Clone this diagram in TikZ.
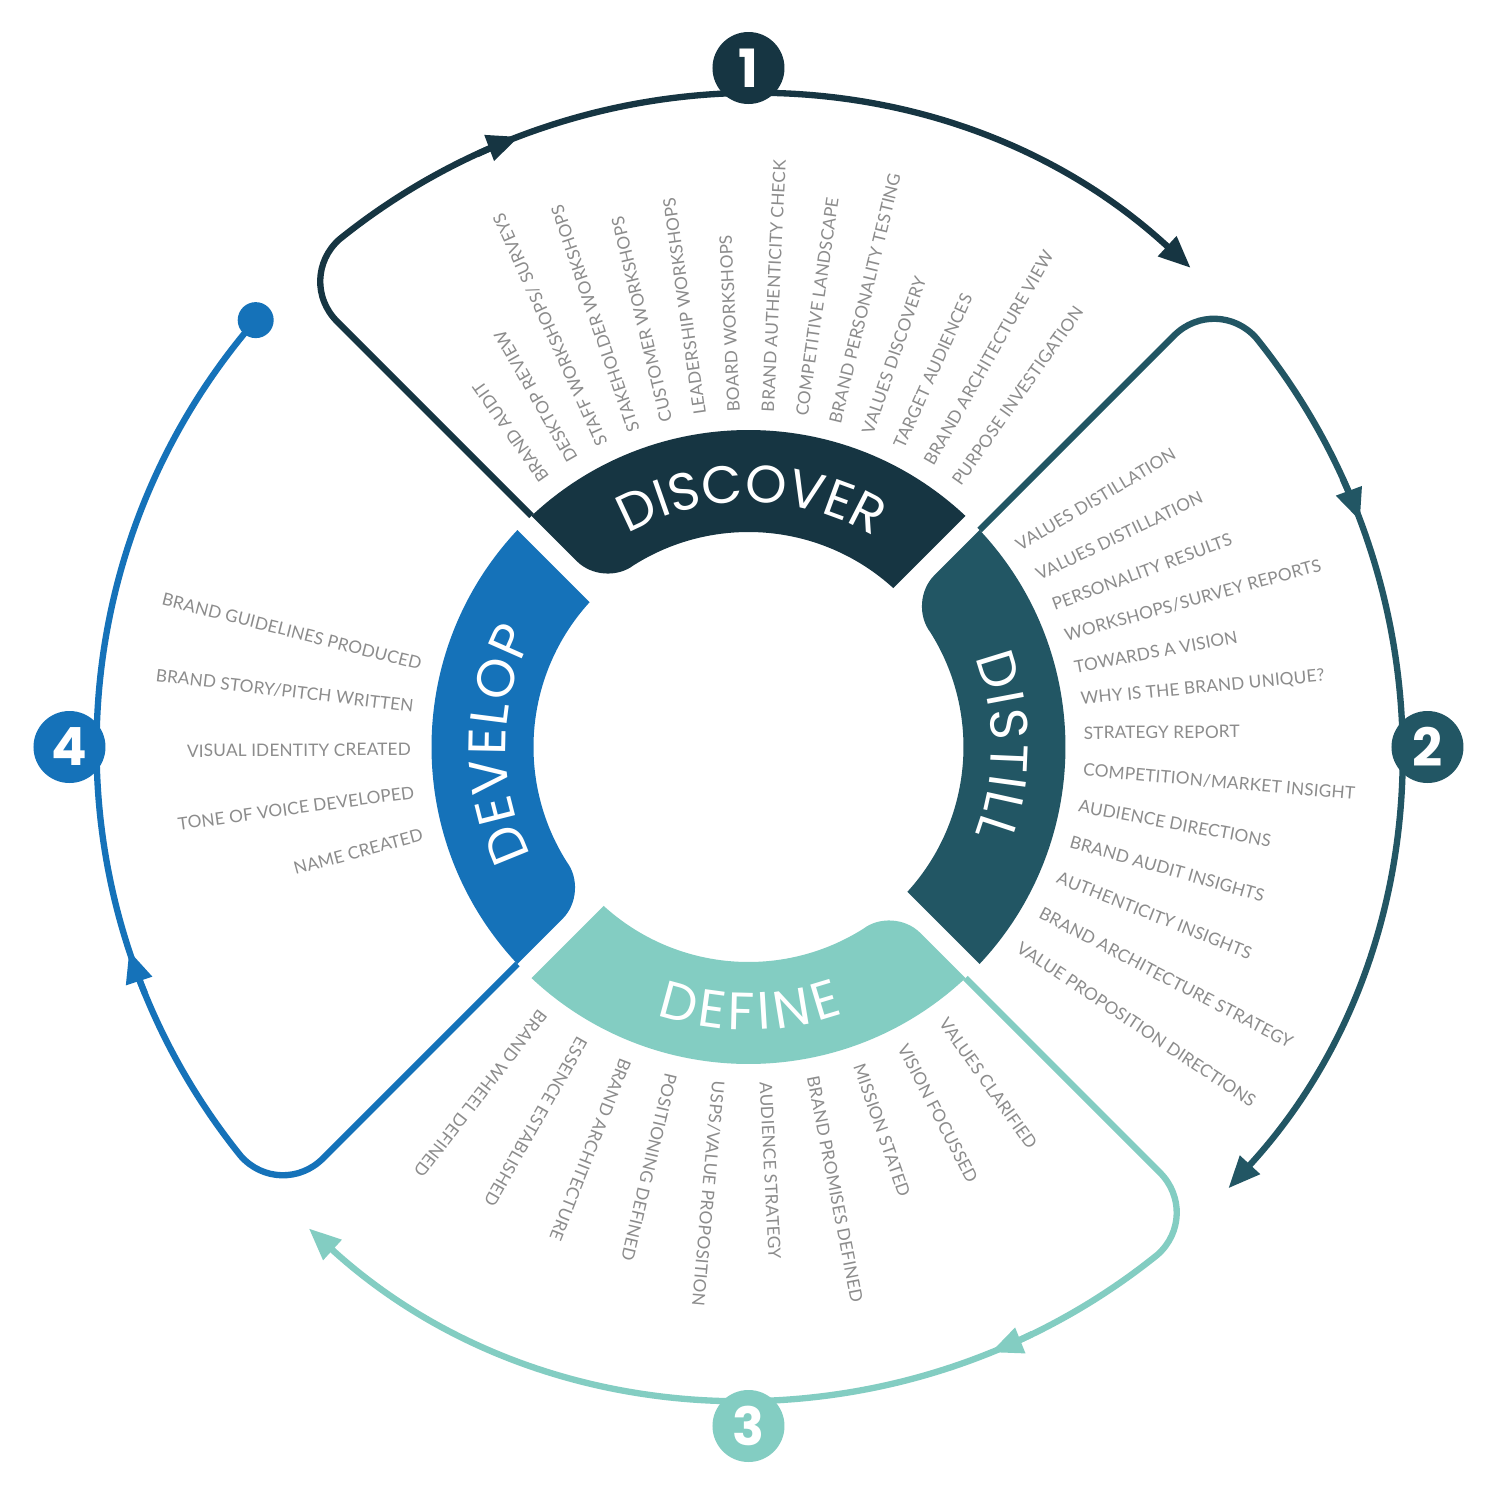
\documentclass[tikz,border=0pt]{standalone}
\usepackage{fontspec}
\setmainfont{Lato}
\newfontfamily\wordfont{Poppins}
\newfontfamily\labelfont[LetterSpace=1]{Lato}
\usepackage{xcolor}
\usepackage{tikz}
\usetikzlibrary{arrows.meta, calc, decorations.text}
\definecolor{discovercol}{HTML}{163542}
\definecolor{distillcol}{HTML}{225664}
\definecolor{definecol}{HTML}{83CDC2}
\definecolor{developcol}{HTML}{1572B9}
\definecolor{labelgray}{HTML}{8C8C8C}
\tikzset{
  steplabel/.style={font=\labelfont\fontsize{4.9}{6}\selectfont, text=labelgray, inner sep=0pt},
  outlabel/.style={steplabel, anchor=west},
  inlabel/.style={steplabel, anchor=east},
  ringword/.style={decorate, decoration={text along path, text align=fit to path,
                   text color=white, text={|\wordfont\fontsize{15}{15}\selectfont|#1}}},
  numdisc/.style={circle, minimum size=0.72cm, inner sep=0pt, text=white,
                  font=\wordfont\bfseries\fontsize{15}{15}\selectfont},
  loopline/.style={line width=1.8pt},
  looptip/.style={-{Triangle[length=0.32cm, width=0.26cm]}, line width=1.8pt},
  enddot/.style={circle, minimum size=0.36cm, inner sep=0pt}
}

\begin{document}
\begin{tikzpicture}

% --- Frame ---
\fill[white] (-7.485,-7.53) rectangle (7.515,7.47);
\useasboundingbox (-7.485,-7.53) rectangle (7.515,7.47);

% --- Ring geometry ---
\def\ri{2.15}    % inner radius
\def\ro{3.17}    % outer radius
\def\gapd{0.1}   % half width of the gaps
\def\dix{2.666}  % asin(gapd/ri)
\def\dox{1.808}  % asin(gapd/ro)
\def\tc{2.148}   % sqrt(ri^2-gapd^2)
\def\crad{0.38}  % rounded inner corner
\def\cang{10.1}  % crad/ri in degrees
\def\rloop{6.52} % radius of the outer loops
\def\dK{0.879}   % asin(gapd/rloop)
\def\tK{6.519}
\def\lrad{0.6}   % rounded loop corner
\def\lang{5.27}
\def\rs{3.35}    % start radius of the activity labels

% --- Quarters of the ring (rounded corner at the counter-clockwise end) ---
\foreach \a/\col in {45/discovercol, -45/distillcol, -135/definecol, 135/developcol}{
  \coordinate (c1) at ($({\a+90}:{\tc+\crad})+(\a:\gapd)$);
  \coordinate (ck) at ({\a+90-\dix}:\ri);
  \coordinate (c2) at ({\a+90-\dix-\cang}:\ri);
  \fill[\col] ({\a+\dox}:\ro) arc[start angle=\a+\dox, end angle=\a+90-\dox, radius=\ro]
    -- (c1) .. controls ($(c1)!0.55!(ck)$) and ($(c2)!0.55!(ck)$) .. (c2)
    arc[start angle=\a+90-\dix-\cang, end angle=\a+\dix, radius=\ri]
    -- cycle;
}

% --- Outer loops with arrows ---
\foreach \a/\col/\m/\e in {45/discovercol/24.4/87.7, -45/distillcol/24.7/87.6, -135/definecol/23.2/87.4}{
  \coordinate (l1) at ($({\a+90}:{\tK-\lrad})+(\a:\gapd)$);
  \coordinate (lk) at ({\a+90-\dK}:\rloop);
  \coordinate (l2) at ({\a+90-\dK-\lang}:\rloop);
  \draw[loopline, \col, -{Triangle[length=0.32cm, width=0.26cm]}]
    ({\a+90-\dox}:\ro) -- (l1) .. controls ($(l1)!0.55!(lk)$) and ($(l2)!0.55!(lk)$) .. (l2)
    arc[start angle=\a+90-\dK-\lang, end angle=\a+90-\e, radius=\rloop];
  \draw[looptip, \col] ({\a+90-\m+4}:\rloop)
    arc[start angle=\a+90-\m+4, end angle=\a+90-\m, radius=\rloop];
}
% develop loop ends in a dot
\coordinate (l1) at ($(225:{\tK-\lrad})+(135:\gapd)$);
\coordinate (lk) at ({225-\dK}:\rloop);
\coordinate (l2) at ({225-\dK-\lang}:\rloop);
\draw[loopline, developcol]
  ({225-\dox}:\ro) -- (l1) .. controls ($(l1)!0.55!(lk)$) and ($(l2)!0.55!(lk)$) .. (l2)
  arc[start angle=225-\dK-\lang, end angle=139.1, radius=\rloop];
\draw[looptip, developcol] ({225-26.8+4}:\rloop)
  arc[start angle=225-26.8+4, end angle=225-26.8, radius=\rloop];
\node[enddot, fill=developcol] (dev-end) at (139.1:\rloop) {};

% --- Step numbers ---
\node[numdisc, fill=discovercol] (num-1) at (90:6.79)  {1};
\node[numdisc, fill=distillcol]  (num-2) at (0:6.79)   {2};
\node[numdisc, fill=definecol]   (num-3) at (-90:6.79) {3};
\node[numdisc, fill=developcol]  (num-4) at (180:6.79) {4};

% --- Ring words (set along the baseline arc) ---
\path[ringword=DISCOVER] (119.5:2.45) arc[start angle=119.5, end angle=61, radius=2.45];
\path[ringword=DISTILL]  (21.5:2.43) arc[start angle=21.5, end angle=-21, radius=2.43];
\path[ringword=DEFINE]   (-109:2.83) arc[start angle=-109, end angle=-70.5, radius=2.83];
\path[ringword=DEVELOP]  (206.5:2.43) arc[start angle=206.5, end angle=152.5, radius=2.43];

% --- Discover activities ---
\foreach \txt [count=\i from 0] in {BRAND AUDIT, DESKTOP REVIEW, STAFF WORKSHOPS/ SURVEYS,
    STAKEHOLDER WORKSHOPS, CUSTOMER WORKSHOPS, LEADERSHIP WORKSHOPS, BOARD WORKSHOPS,
    BRAND AUTHENTICITY CHECK, COMPETITIVE LANDSCAPE, BRAND PERSONALITY TESTING,
    VALUES DISCOVERY, TARGET AUDIENCES, BRAND ARCHITECTURE VIEW, PURPOSE INVESTIGATION}{
  \pgfmathsetmacro\ang{127.4-5.815*\i}
  \pgfmathsetmacro\rot{90+0.93*(\ang-89.6)}
  \node[outlabel, rotate=\rot] (dsc-\i) at (\ang:\rs) {\txt};
}

% --- Distill activities ---
\foreach \ang/\txt [count=\i] in {36.8/{VALUES DISTILLATION}, 30.8/{VALUES DISTILLATION},
    25.0/{PERSONALITY RESULTS}, 19.4/{WORKSHOPS/SURVEY REPORTS}, 13.8/{TOWARDS A VISION},
    8.1/{WHY IS THE BRAND UNIQUE?}, 2.4/{STRATEGY REPORT}, -3.9/{COMPETITION/MARKET INSIGHT},
    -10.1/{AUDIENCE DIRECTIONS}, -16.3/{BRAND AUDIT INSIGHTS}, -22.8/{AUTHENTICITY INSIGHTS},
    -29.5/{BRAND ARCHITECTURE STRATEGY}, -36.4/{VALUE PROPOSITION DIRECTIONS}}{
  \pgfmathsetmacro\rot{0.88*\ang-1.6}
  \node[outlabel, rotate=\rot] (dst-\i) at (\ang:\rs) {\txt};
}

% --- Define activities ---
\foreach \txt [count=\i from 0] in {BRAND WHEEL DEFINED, ESSENCE ESTABLISHED, BRAND ARCHITECTURE,
    POSITIONING DEFINED, USPS/VALUE PROPOSITION, AUDIENCE STRATEGY, BRAND PROMISES DEFINED,
    MISSION STATED, VISION FOCUSSED, VALUES CLARIFIED}{
  \pgfmathsetmacro\ang{-127.7+8.13*\i}
  \node[outlabel, rotate=\ang] (def-\i) at (\ang:\rs) {\txt};
}

% --- Develop activities ---
\foreach \txt [count=\i from 0] in {BRAND GUIDELINES PRODUCED, BRAND STORY/PITCH WRITTEN,
    VISUAL IDENTITY CREATED, TONE OF VOICE DEVELOPED, NAME CREATED}{
  \pgfmathsetmacro\ang{165.8+7.3*\i}
  \node[inlabel, rotate=\ang-180] (dev-\i) at (\ang:3.37) {\txt};
}

\end{tikzpicture}
\end{document}
